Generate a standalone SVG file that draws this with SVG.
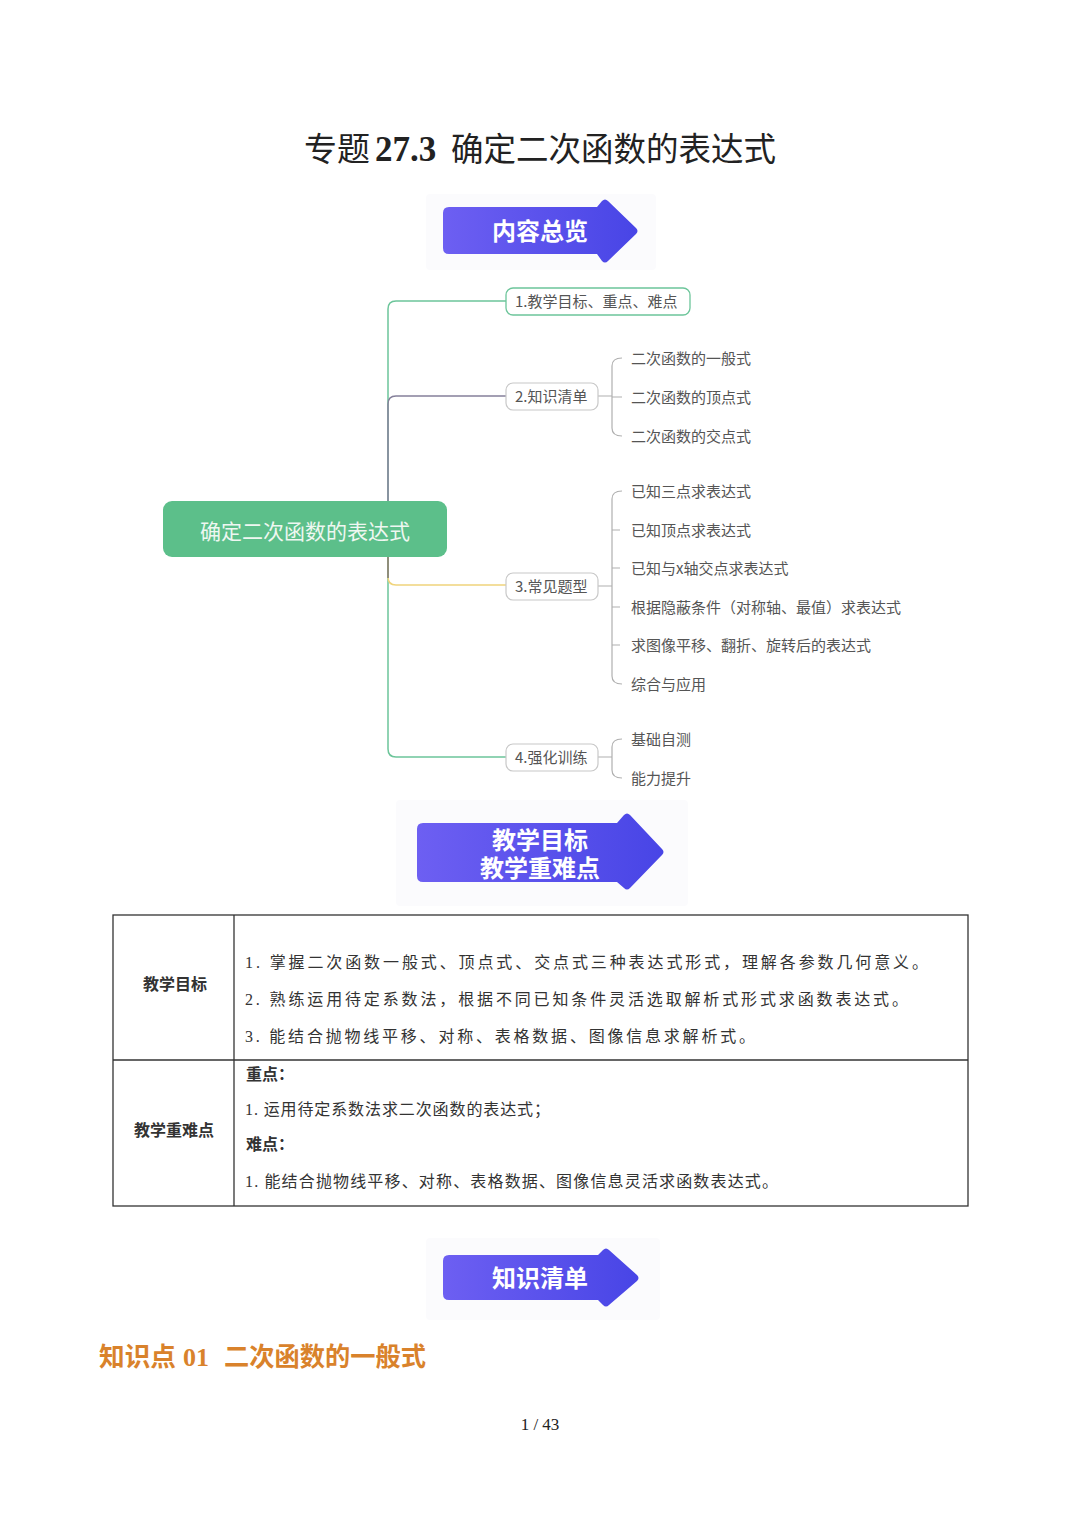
<svg xmlns="http://www.w3.org/2000/svg" width="1080" height="1527" viewBox="0 0 1080 1527">
<defs>
<linearGradient id="bg" x1="0" y1="0" x2="1" y2="0">
<stop offset="0" stop-color="#6d5ff2"/>
<stop offset="1" stop-color="#4845e6"/>
</linearGradient>
<style>
.serif{font-family:"Liberation Serif","Noto Sans CJK SC",serif;fill:#222}
.ban{font-family:"Noto Sans CJK SC",sans-serif;font-weight:700;fill:#fff;text-anchor:middle;font-size:24px}
.mm{font-family:"Noto Sans CJK SC",sans-serif;font-size:15px;fill:#555}
.box{fill:#fff;stroke:#c8c8c8;stroke-width:1.2}
.br{fill:none;stroke:#b0b0b0;stroke-width:1.2}
.tb{font-family:"Liberation Serif","Noto Sans CJK SC",serif;font-size:16px;fill:#333}
.tl{stroke:#333;stroke-width:1.3;fill:none}
.backdrop{fill:#fbfbfd}
</style>
</defs>
<rect width="1080" height="1527" fill="#fff"/>

<g id="title">
<text class="serif" y="161" font-size="33"><tspan x="304">专题</tspan><tspan x="375" font-weight="700" font-size="35">27.3</tspan><tspan x="451" textLength="325" lengthAdjust="spacingAndGlyphs">确定二次函数的表达式</tspan></text>
</g>

<g id="banner1">
<rect class="backdrop" x="426" y="194" width="230" height="76" rx="4"/>
<path d="M449,207 H597 L602,201 Q605,198 608,201 L636,228 Q639,231 636,234 L608,261 Q605,264 602,261 L597,254 H449 Q443,254 443,248 V213 Q443,207 449,207 Z" fill="url(#bg)"/>
<text class="ban" x="540" y="240" font-size="25">内容总览</text>
</g>

<g id="connectors">
<path d="M388,501 V309 Q388,301 396,301 H506" fill="none" stroke="#6cc59a" stroke-width="1.5"/>
<path d="M388,501 V404 Q388,396 396,396 H506" fill="none" stroke="#85809a" stroke-width="1.5"/>
<path d="M388,557 V749 Q388,757 396,757 H506" fill="none" stroke="#6cc59a" stroke-width="1.5"/>
<path d="M388,557 V577 Q388,585 396,585 H506" fill="none" stroke="#f0d47c" stroke-width="1.5"/>
<path d="M388,557 V578" fill="none" stroke="#777" stroke-width="1.5"/>
<path class="br" d="M598,396 H612 M622,358 Q612,358 612,366 V428 Q612,436 622,436 M612,397 H622"/>
<path class="br" d="M598,586 H612 M622,491 Q612,491 612,499 V676 Q612,684 622,684 M612,530 H620 M612,568 H620 M612,607 H620 M612,645 H620"/>
<path class="br" d="M598,757 H612 M622,739 Q612,739 612,747 V770 Q612,778 622,778"/>
</g>

<g id="root">
<rect x="163" y="501" width="284" height="56" rx="9" fill="#5cbf8a"/>
<text x="305" y="539" text-anchor="middle" font-family="Noto Sans CJK SC, sans-serif" font-size="21" fill="#eef7f1">确定二次函数的表达式</text>
</g>

<g id="node1">
<rect x="506" y="288" width="184" height="27" rx="7" fill="#fff" stroke="#6cc59a" stroke-width="1.3"/>
<text class="mm" x="515" y="307">1.教学目标、重点、难点</text>
</g>
<g id="node2">
<rect class="box" x="506" y="383" width="92" height="27" rx="7"/>
<text class="mm" x="515" y="402">2.知识清单</text>
</g>
<g id="node2a"><text class="mm" x="631" y="364">二次函数的一般式</text></g>
<g id="node2b"><text class="mm" x="631" y="403">二次函数的顶点式</text></g>
<g id="node2c"><text class="mm" x="631" y="442">二次函数的交点式</text></g>

<g id="node3">
<rect class="box" x="506" y="573" width="92" height="27" rx="7"/>
<text class="mm" x="515" y="592">3.常见题型</text>
</g>
<g id="node3a"><text class="mm" x="631" y="497">已知三点求表达式</text></g>
<g id="node3b"><text class="mm" x="631" y="536">已知顶点求表达式</text></g>
<g id="node3c"><text class="mm" x="631" y="574">已知与x轴交点求表达式</text></g>
<g id="node3d"><text class="mm" x="631" y="613">根据隐蔽条件（对称轴、最值）求表达式</text></g>
<g id="node3e"><text class="mm" x="631" y="651">求图像平移、翻折、旋转后的表达式</text></g>
<g id="node3f"><text class="mm" x="631" y="690">综合与应用</text></g>

<g id="node4">
<rect class="box" x="506" y="744" width="92" height="27" rx="7"/>
<text class="mm" x="515" y="763">4.强化训练</text>
</g>
<g id="node4a"><text class="mm" x="631" y="745">基础自测</text></g>
<g id="node4b"><text class="mm" x="631" y="784">能力提升</text></g>

<g id="banner2">
<rect class="backdrop" x="396" y="800" width="292" height="106" rx="4"/>
<path d="M423,823 H617 L624,815 Q627,812 630,815 L662,849 Q665,852 662,855 L630,888 Q627,891 624,888 L617,882 H423 Q417,882 417,876 V829 Q417,823 423,823 Z" fill="url(#bg)"/>
<text class="ban" font-size="23"><tspan x="540" y="849">教学目标</tspan><tspan x="540" y="877">教学重难点</tspan></text>
</g>

<g id="table">
<rect class="tl" x="113" y="915" width="855" height="291"/>
<line class="tl" x1="234" y1="915" x2="234" y2="1206"/>
<line class="tl" x1="113" y1="1060" x2="968" y2="1060"/>
<text class="tb" x="175" y="990" text-anchor="middle" font-size="18" font-weight="700">教学目标</text>
<text class="tb" x="245" y="968" textLength="683" lengthAdjust="spacing">1. 掌握二次函数一般式、顶点式、交点式三种表达式形式，理解各参数几何意义。</text>
<text class="tb" x="245" y="1005" textLength="663" lengthAdjust="spacing">2. 熟练运用待定系数法，根据不同已知条件灵活选取解析式形式求函数表达式。</text>
<text class="tb" x="245" y="1042" textLength="510" lengthAdjust="spacing">3. 能结合抛物线平移、对称、表格数据、图像信息求解析式。</text>
<text class="tb" x="174" y="1136" text-anchor="middle" font-size="18" font-weight="700">教学重难点</text>
<text class="tb" x="246" y="1080" font-weight="700">重点：</text>
<text class="tb" x="245" y="1115" textLength="305" lengthAdjust="spacing">1. 运用待定系数法求二次函数的表达式；</text>
<text class="tb" x="246" y="1150" font-weight="700">难点：</text>
<text class="tb" x="245" y="1187" textLength="533" lengthAdjust="spacing">1. 能结合抛物线平移、对称、表格数据、图像信息灵活求函数表达式。</text>
</g>

<g id="banner3">
<rect class="backdrop" x="426" y="1238" width="234" height="82" rx="4"/>
<path d="M449,1255 H598 L603,1250 Q606,1247 609,1250 L637,1275 Q640,1278 637,1281 L609,1305 Q606,1308 603,1305 L598,1300 H449 Q443,1300 443,1294 V1261 Q443,1255 449,1255 Z" fill="url(#bg)"/>
<text class="ban" x="540" y="1287" font-size="25">知识清单</text>
</g>

<g id="heading">
<text y="1366" font-family="Liberation Serif, Noto Sans CJK SC, serif" font-size="26" font-weight="700" fill="#d9822b"><tspan x="99" textLength="77" lengthAdjust="spacingAndGlyphs">知识点</tspan><tspan x="183">01</tspan><tspan x="224" textLength="202" lengthAdjust="spacingAndGlyphs">二次函数的一般式</tspan></text>
</g>

<g id="pagenum">
<text class="serif" x="540" y="1430" text-anchor="middle" font-size="17">1 / 43</text>
</g>
</svg>
